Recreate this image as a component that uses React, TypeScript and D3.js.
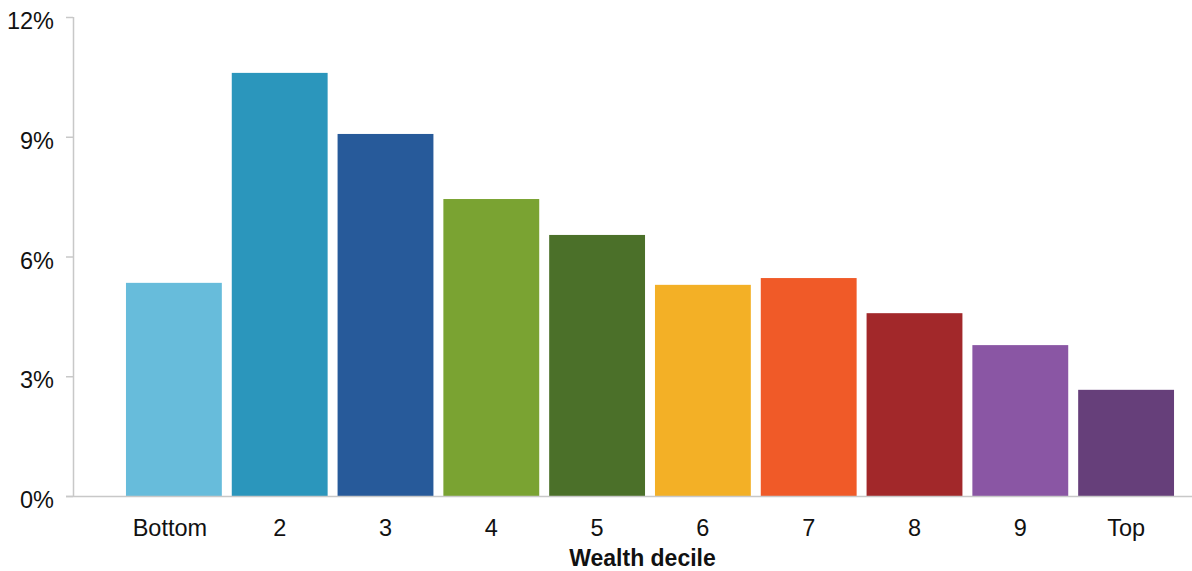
import React from "react";
import * as d3 from "d3";

const categories = ["Bottom", "2", "3", "4", "5", "6", "7", "8", "9", "Top"];
const values = [5.34, 10.6, 9.07, 7.44, 6.54, 5.29, 5.46, 4.58, 3.78, 2.66];
const colors = ["#67bcdb", "#2b96bc", "#275a9a", "#7aa332", "#4b7029", "#f3b026", "#f05a28", "#a2282a", "#8a56a4", "#663f7a"];
const yTicks = [0, 3, 6, 9, 12];
const xTitle = "Wealth decile";

export default function App() {
  const W = 1192, H = 571;
  const x = d3.scaleBand<string>().domain(categories).range([121, 1179]).paddingInner(0.094).paddingOuter(0.047);
  const y = d3.scaleLinear().domain([0, 12]).range([496, 17]);
  const font = "Arial, 'Liberation Sans', sans-serif";
  return (
    <svg width={W} height={H} style={{ position: "absolute", left: 0, top: 0, fontFamily: font }}>
      {categories.map((c, i) => (
        <rect key={c} x={x(c)} y={y(values[i])} width={x.bandwidth()} height={y(0) - y(values[i])} fill={colors[i]} />
      ))}
      <line x1={73.5} x2={73.5} y1={y(12)} y2={y(0)} stroke="#c8c8c8" strokeWidth={1.5} />
      <line x1={66} x2={W} y1={y(0) + 0.5} y2={y(0) + 0.5} stroke="#c8c8c8" strokeWidth={1.5} />
      {yTicks.map((t) => (
        <g key={t}>
          <line x1={66} x2={73} y1={y(t) + 0.5} y2={y(t) + 0.5} stroke="#c8c8c8" strokeWidth={1.5} />
          <text x={54} y={y(t) + 4} dy="0.35em" textAnchor="end" fontSize={23.5} fill="#111">{t}%</text>
        </g>
      ))}
      {categories.map((c, i) => (
        <text key={c} x={(x(c) as number) + x.bandwidth() / 2 - (i === 0 ? 4 : 0)} y={536} textAnchor="middle" fontSize={23.5} fill="#111">{c}</text>
      ))}
      <text x={642.5} y={566} textAnchor="middle" fontSize={23} fontWeight="bold" fill="#111">{xTitle}</text>
    </svg>
  );
}
